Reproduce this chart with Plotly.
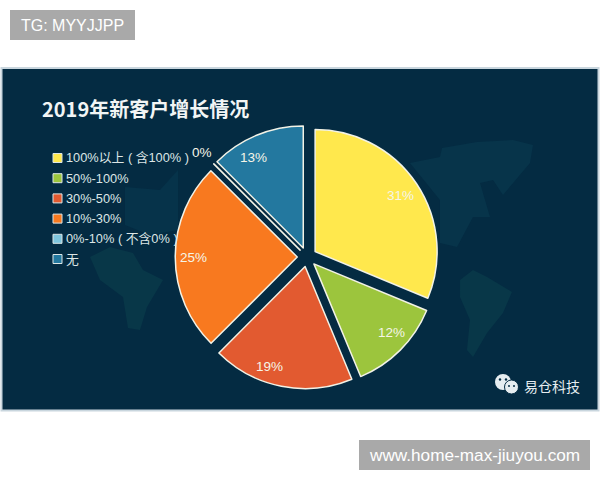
import math
import plotly.graph_objects as go

categories = ["100%以上 ( 含100% )", "50%-100%", "30%-50%", "10%-30%", "0%-10% ( 不含0% )", "无"]
values = [31.25, 12.5, 18.75, 25, 0.02, 12.5]
slice_labels = ["31%", "12%", "19%", "25%", "0%", "13%"]
colors = ["#FFE84D", "#9CC53D", "#E25A30", "#F8791F", "#7FC6DE", "#23789F"]
W, H = 600, 480
CX, CY, R, PULL = 307, 257, 122, 0.08
LATIN = "Liberation Sans, Noto Sans CJK SC, sans-serif"
CJK = "Noto Sans CJK SC, Liberation Sans, sans-serif"
BG = "#042B42"
# pixel nudges of each slice label away from its bisector position
LABEL_NUDGE = [(-1, 2), (4, -5), (-15, -2), (0, 0), (-1, 0), (-10, 5)]

def px(x): return x / W
def py(y): return 1 - y / H

def rect(x0, y0, x1, y1, fill, line=None, width=1, layer="below"):
    return dict(type="rect", xref="paper", yref="paper", x0=px(x0), x1=px(x1), y0=py(y0), y1=py(y1),
                fillcolor=fill, line=dict(color=line or fill, width=width if line else 0), layer=layer)

def blob(points, fill="#083748"):
    d = "M " + " L ".join(f"{px(x):.4f},{py(y):.4f}" for x, y in points) + " Z"
    return dict(type="path", xref="paper", yref="paper", path=d, fillcolor=fill, line=dict(width=0), layer="below")

def dot(cx, cy, r, fill, line=None):
    return dict(type="circle", xref="paper", yref="paper", x0=px(cx - r), x1=px(cx + r), y0=py(cy + r), y1=py(cy - r),
                fillcolor=fill, line=dict(color=line or fill, width=1 if line else 0), layer="above")

fig = go.Figure(go.Pie(
    labels=categories, values=values, textinfo="none",
    sort=False, direction="clockwise", rotation=0, showlegend=False,
    pull=[PULL] * len(values),
    marker=dict(colors=colors, line=dict(color="#F2F2E6", width=1.5)),
    domain=dict(x=[px(CX - R * (1 + PULL)), px(CX + R * (1 + PULL))],
                y=[py(CY + R * (1 + PULL)), py(CY - R * (1 + PULL))]),
))

shapes = [
    rect(1.5, 68, 598.5, 410.5, BG, "#C9D6DE", 2),
    rect(10, 10, 135, 40, "#A9A9A9"),
    rect(359, 440, 590, 470, "#A9A9A9"),
    # faint world map
    blob([(442,148),(477,142),(513,140),(533,145),(530,163),(503,195),(493,180),(480,183),(490,217),(473,217),(457,247),(440,243),(440,200),(410,163),(440,157)], "#07344A"),
    blob([(460,280),(473,270),(487,277),(512,292),(503,313),(487,333),(473,357),(467,350),(470,320),(460,297)]),
    blob([(90,257),(110,247),(133,253),(143,270),(163,280),(147,307),(140,330),(128,328),(123,297),(100,280)]),
    blob([(125,187),(160,190),(178,170),(178,230),(150,235),(125,225)], "#06334A"),
    dot(503, 382, 8, "#E6EDF0"),
    dot(511.5, 387, 7, "#E6EDF0", BG),
    dot(500, 379.5, 1.2, BG),
    dot(506, 379.5, 1.2, BG),
    dot(509, 386, 1, BG),
    dot(514, 386, 1, BG),
]

annotations = [
    dict(text="<b>2019年新客户增长情况</b>", x=px(40), y=py(109), xanchor="left", yanchor="middle",
         font=dict(size=20, color="#F2F5F5", family=CJK)),
    dict(text="易仓科技", x=px(551.5), y=py(386), xanchor="center", yanchor="middle",
         font=dict(size=14, color="#E6EDF0", family=CJK)),
    dict(text="TG: MYYJJPP", x=px(72.5), y=py(25), xanchor="center", yanchor="middle",
         font=dict(size=16, color="#FFFFFF", family="Liberation Sans, sans-serif")),
    dict(text="www.home-max-jiuyou.com", x=px(474.5), y=py(455), xanchor="center", yanchor="middle",
         font=dict(size=17.2, color="#FFFFFF", family="Liberation Sans, sans-serif")),
]

# slice labels sit at a fixed fraction of the radius on each slice's bisector
total = sum(values)
cum = 0
for v, t, (dx, dy) in zip(values, slice_labels, LABEL_NUDGE):
    ang = math.radians((cum + v / 2) / total * 360)
    cum += v
    dist = (R * PULL + R * 0.85) if v >= 1 else R * 1.21
    annotations.append(dict(text=t, x=px(CX + dist * math.sin(ang) + dx), y=py(CY - dist * math.cos(ang) + dy),
                            xanchor="center", yanchor="middle",
                            font=dict(size=13.5, color="#F5F5E8", family="Liberation Sans, sans-serif")))

# hand-placed legend so the swatch/text gap matches
for i, (name, c) in enumerate(zip(categories, colors)):
    y = 158 + i * 20.2
    shapes.append(rect(53, y - 4.5, 62, y + 4.5, c, "#DCE6E6", 1, "above"))
    annotations.append(dict(text=name, x=px(64), y=py(y), xanchor="left", yanchor="middle",
                            font=dict(size=12.8, color="#DCE6E6", family=LATIN)))

for a in annotations:
    a.update(xref="paper", yref="paper", showarrow=False)

fig.update_layout(
    width=W, height=H, margin=dict(l=0, r=0, t=0, b=0),
    paper_bgcolor="#FFFFFF", plot_bgcolor="#FFFFFF",
    shapes=shapes, annotations=annotations,
)
fig.write_html("out.html", config=dict(displayModeBar=False), post_script="document.body.style.margin='0';")
